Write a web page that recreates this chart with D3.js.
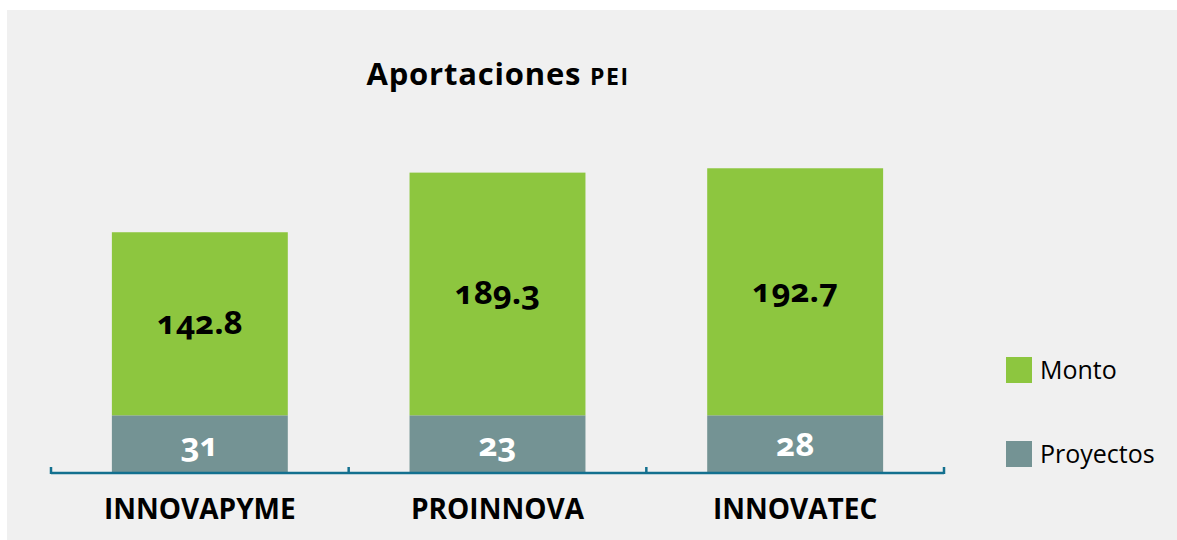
<!DOCTYPE html>
<html>
<head>
<meta charset="utf-8">
<script src="https://cdn.jsdelivr.net/npm/d3@7"></script>
<style>
  body { margin: 0; background: #fff; }
  svg { display: block; font-family: "Open Sans", "Noto Sans", sans-serif; }
  .valor { font-variant-numeric: oldstyle-nums; }
</style>
</head>
<body>
<script>
// datos
var programas = ['INNOVAPYME', 'PROINNOVA', 'INNOVATEC'];
var monto = [142.8, 189.3, 192.7];
var proyectos = [31, 23, 28];
// en el original el tramo de proyectos tiene la misma altura en las tres barras
var proyectosAltura = [45, 45, 45];
var series = ['Monto', 'Proyectos'];
var colores = ['#8dc63f', '#749394'];

var width = 1177, height = 540;

var svg = d3.select('body').append('svg')
  .attr('width', width)
  .attr('height', height);

// fondo gris del area del grafico
svg.append('rect')
  .attr('x', 7).attr('y', 10)
  .attr('width', width - 7).attr('height', height - 10)
  .attr('fill', '#f0f0f0');

var x = d3.scaleBand()
  .domain(programas)
  .range([51, 944])
  .paddingInner(0.409)
  .paddingOuter(0.2045);

var y = d3.scaleLinear()
  .domain([0, 250])
  .range([473, 152.5]);

var filas = programas.map(function (p, i) {
  return { programa: p, monto: monto[i], proyectos: proyectos[i], base: proyectosAltura[i] };
});

// barras de proyectos (abajo)
svg.append('g').selectAll('rect')
  .data(filas).enter().append('rect')
  .attr('x', function (d) { return x(d.programa); })
  .attr('width', x.bandwidth())
  .attr('y', function (d) { return y(d.base); })
  .attr('height', function (d) { return y(0) - y(d.base); })
  .attr('fill', colores[1]);

// barras de monto (arriba)
svg.append('g').selectAll('rect')
  .data(filas).enter().append('rect')
  .attr('x', function (d) { return x(d.programa); })
  .attr('width', x.bandwidth())
  .attr('y', function (d) { return y(d.base + d.monto); })
  .attr('height', function (d) { return y(d.base) - y(d.base + d.monto); })
  .attr('fill', colores[0]);

// etiquetas de valores
svg.append('g').selectAll('text')
  .data(filas).enter().append('text')
  .attr('class', 'valor')
  .attr('x', function (d) { return x(d.programa) + x.bandwidth() / 2; })
  .attr('y', function (d) { return (y(d.base) + y(d.base + d.monto)) / 2; })
  .attr('dy', '0.3em')
  .attr('text-anchor', 'middle')
  .attr('font-size', 33)
  .attr('font-weight', 'bold')
  .attr('fill', '#000')
  .text(function (d) { return d.monto.toFixed(1); });

svg.append('g').selectAll('text')
  .data(filas).enter().append('text')
  .attr('class', 'valor')
  .attr('x', function (d) { return x(d.programa) + x.bandwidth() / 2; })
  .attr('y', function (d) { return (y(0) + y(d.base)) / 2; })
  .attr('dy', '0.35em')
  .attr('text-anchor', 'middle')
  .attr('font-size', 33)
  .attr('font-weight', 'bold')
  .attr('fill', '#fff')
  .text(function (d) { return d.proyectos; });

// eje x con marcas entre categorias
var eje = svg.append('g').attr('stroke', '#13708f').attr('stroke-width', 2.5).attr('fill', 'none');
eje.append('line')
  .attr('x1', x.range()[0]).attr('x2', x.range()[1])
  .attr('y1', y(0)).attr('y2', y(0));
var marcas = d3.range(programas.length + 1).map(function (i) {
  return x.range()[0] + i * x.step();
});
eje.selectAll('line.marca')
  .data(marcas).enter().append('line')
  .attr('class', 'marca')
  .attr('x1', function (d) { return d; }).attr('x2', function (d) { return d; })
  .attr('y1', y(0) - 6).attr('y2', y(0) + 1);

svg.append('g').selectAll('text')
  .data(programas).enter().append('text')
  .attr('x', function (d) { return x(d) + x.bandwidth() / 2; })
  .attr('y', 519)
  .attr('text-anchor', 'middle')
  .attr('font-size', 28)
  .attr('font-weight', 'bold')
  .attr('fill', '#000')
  .text(function (d) { return d; });

// titulo
var titulo = svg.append('text')
  .attr('x', 498)
  .attr('y', 85)
  .attr('text-anchor', 'middle')
  .attr('font-size', 31)
  .attr('letter-spacing', 0.8)
  .attr('font-weight', 'bold')
  .attr('fill', '#000');
titulo.append('tspan').text('Aportaciones ');
titulo.append('tspan').attr('font-size', 23).attr('letter-spacing', 1.5).text('PEI');

// leyenda
var leyenda = svg.append('g').selectAll('g')
  .data(series).enter().append('g')
  .attr('transform', function (d, i) { return 'translate(1006,' + (357 + i * 84) + ')'; });
leyenda.append('rect')
  .attr('width', 26).attr('height', 26)
  .attr('fill', function (d, i) { return colores[i]; });
leyenda.append('text')
  .attr('x', 34)
  .attr('y', 13)
  .attr('dy', '0.35em')
  .attr('font-size', 25)
  .attr('fill', '#000')
  .text(function (d) { return d; });
</script>
</body>
</html>
